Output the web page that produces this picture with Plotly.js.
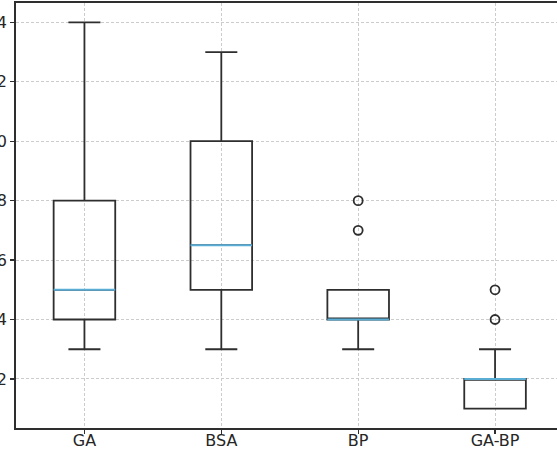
<!DOCTYPE html>
<html>
<head>
<meta charset="utf-8">
<script src="https://cdn.plot.ly/plotly-3.0.1.min.js"></script>
<style>html,body{margin:0;padding:0;background:#fff;}#chart{width:557px;height:450px;}</style>
</head>
<body>
<div id="chart"></div>
<script>
// Data
const categories = ["GA", "BSA", "BP", "GA-BP"];
const positions = [1, 2, 3, 4];
const lowerWhisker = [3, 3, 3, 1];
const q1 = [4, 5, 4, 1];
const medians = [5, 6.5, 4, 2];
const q3 = [8, 10, 5, 2];
const upperWhisker = [14, 13, 5, 3];
const outlierPos = [3, 3, 4, 4];
const outlierVals = [7, 8, 4, 5];

const lineCol = "#2e2e2e";
const medCol = "#5aaed6";
const boxWidth = 0.45;

const traces = [];
categories.forEach((c, i) => {
  traces.push({
    type: "box",
    name: c,
    x: [positions[i]],
    q1: [q1[i]],
    median: [medians[i]],
    q3: [q3[i]],
    lowerfence: [lowerWhisker[i]],
    upperfence: [upperWhisker[i]],
    width: boxWidth,
    whiskerwidth: 0.52,
    fillcolor: "rgba(255,255,255,0)",
    line: { color: lineCol, width: 1.8 },
    boxpoints: false,
    hoverinfo: "skip",
    showlegend: false
  });
});

// Median lines
const mx = [], my = [];
categories.forEach((c, i) => {
  mx.push(positions[i] - boxWidth / 2, positions[i] + boxWidth / 2, null);
  my.push(medians[i], medians[i], null);
});
traces.push({
  type: "scatter", mode: "lines", x: mx, y: my,
  line: { color: medCol, width: 2 }, showlegend: false, hoverinfo: "skip"
});

// Outliers
traces.push({
  type: "scatter", mode: "markers", x: outlierPos, y: outlierVals,
  marker: { symbol: "circle-open", size: 9, color: lineCol, line: { color: lineCol, width: 1.8 } },
  showlegend: false, hoverinfo: "skip"
});

const layout = {
  width: 557, height: 450,
  margin: { l: 16, r: 0, t: 3, b: 22 },
  paper_bgcolor: "#ffffff", plot_bgcolor: "#ffffff",
  font: { family: "DejaVu Sans", size: 16, color: "#262626" },
  showlegend: false,
  xaxis: {
    range: [0.5, 4.4526],
    tickvals: positions, ticktext: categories,
    showgrid: true, gridcolor: "#cccccc", griddash: "3px,2px", gridwidth: 1,
    zeroline: false,
    showline: true, linecolor: lineCol, linewidth: 1.8, mirror: true,
    ticks: "outside", ticklen: 4, tickcolor: lineCol, tickwidth: 1.2,
    ticklabelstandoff: -7,
    tickfont: { size: 16, color: "#262626" }
  },
  yaxis: {
    range: [0.35, 14.65],
    tickvals: [2, 4, 6, 8, 10, 12, 14],
    showgrid: true, gridcolor: "#cccccc", griddash: "3px,2px", gridwidth: 1,
    zeroline: false,
    showline: true, linecolor: lineCol, linewidth: 1.8,
    ticks: "outside", ticklen: 4, tickcolor: lineCol, tickwidth: 1.2,
    tickfont: { size: 16, color: "#262626" }
  }
};

Plotly.newPlot("chart", traces, layout, { displayModeBar: false, staticPlot: true });
</script>
</body>
</html>
